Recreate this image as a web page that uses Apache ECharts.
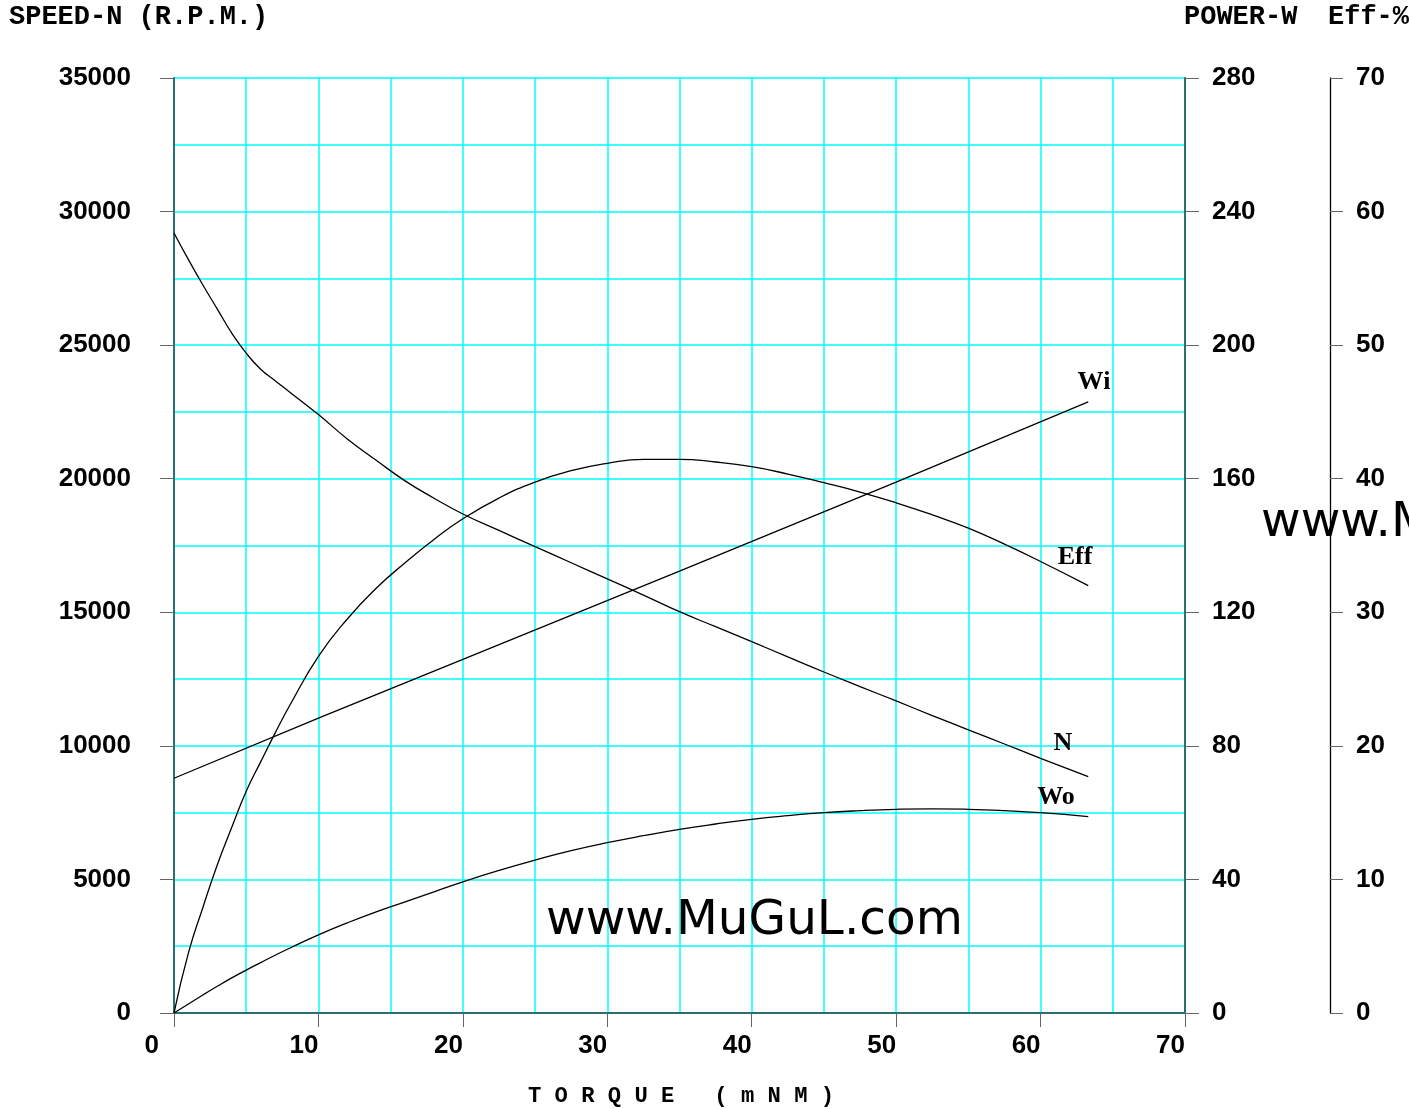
<!DOCTYPE html>
<html>
<head>
<meta charset="utf-8">
<script src="https://cdn.jsdelivr.net/npm/echarts@6/dist/echarts.min.js"></script>
<style>
html,body{margin:0;padding:0;background:#fff;}
#c{width:1409px;height:1109px;}
</style>
</head>
<body>
<div id="c"></div>
<script>
// ---- data ----
const torque   = [0, 1, 2, 3, 4, 5, 6, 7, 8, 10, 12, 14, 16, 18, 20, 22.5, 25, 27.5, 30, 32.5, 35, 37.5, 40, 42.5, 45, 47.5, 50, 52.5, 55, 57.5, 60, 63.3];
const speedN   = [29200, 28200, 27250, 26350, 25450, 24700, 24100, 23670, 23250, 22400, 21490, 20690, 19920, 19270, 18680, 18063, 17456, 16855, 16250, 15645, 15022, 14460, 13900, 13330, 12765, 12220, 11680, 11135, 10600, 10070, 9534, 8846];
const effPct   = [0, 4.5, 7.9, 11.1, 13.9, 16.6, 18.8, 20.95, 23.0, 26.7, 29.5, 31.8, 33.7, 35.45, 37.0, 38.55, 39.75, 40.6, 41.15, 41.45, 41.45, 41.25, 40.9, 40.35, 39.7, 39.0, 38.2, 37.3, 36.3, 35.1, 33.8, 32.0];
const powerOut = [0, 2.7, 5.4, 8.0, 10.5, 12.85, 15.1, 17.3, 19.4, 23.4, 27.0, 30.3, 33.3, 36.3, 39.3, 42.7, 45.8, 48.6, 51.0, 53.1, 55.0, 56.6, 58.0, 59.1, 60.0, 60.6, 61.0, 61.15, 61.0, 60.6, 60.0, 58.8];
const wiTorque = [0, 10, 20, 35, 50, 63.3];
const powerIn  = [70.3, 88.3, 105.9, 132.3, 159.0, 183.0];

const xRange     = [0, 70, 10];
const speedRange = [0, 35000, 5000];
const powerRange = [0, 280, 40];
const effRange   = [0, 70, 10];

const curveNames = ['N', 'Wi', 'Wo', 'Eff'];
const titles = ['SPEED-N (R.P.M.)', 'POWER-W', 'Eff-%', 'T O R Q U E   ( m N M )'];
const watermark = 'www.MuGuL.com';

// ---- chart ----
const zip = (xs, ys) => xs.map((x, i) => [x, ys[i]]);
const chart = echarts.init(document.getElementById('c'), null, {renderer: 'canvas'});

const CYAN = '#00ffff';
const TEAL = '#2c6f6f';
const labelFont = {fontFamily: '"Liberation Sans", Arial, sans-serif', fontWeight: 'bold', fontSize: 26, color: '#000'};

function lineSeries(name, data, yIdx, smooth) {
  return {
    name, type: 'line', data, yAxisIndex: yIdx,
    showSymbol: false, symbol: 'none', smooth: smooth,
    lineStyle: {color: '#000', width: 1.3}, z: 5, silent: true, animation: false
  };
}

const titleFont = 'bold 27px "Liberation Mono", "Courier New", monospace';
const curveFont = 'bold 26px "Liberation Serif", "Times New Roman", serif';
const wmFont = '48.5px "DejaVu Sans", Verdana, sans-serif';
function txt(x, y, text, font, align) {
  return {type: 'text', x, y, z: 10, silent: true,
    style: {text, font, fill: '#000', align, verticalAlign: 'middle', textAlign: align, textVerticalAlign: 'middle'}};
}

const option = {
  animation: false,
  backgroundColor: '#fff',
  grid: {left: 174, right: 224, top: 78, bottom: 96, containLabel: false},
  xAxis: {
    type: 'value', min: xRange[0], max: xRange[1], interval: xRange[2],
    axisLine: {show: true, onZero: false, lineStyle: {color: TEAL, width: 2}},
    axisTick: {show: true, length: 14, lineStyle: {color: '#666', width: 1}},
    minorTick: {show: false, splitNumber: 2},
    splitLine: {show: true, lineStyle: {color: CYAN, width: 1.5}},
    minorSplitLine: {show: true, lineStyle: {color: CYAN, width: 1.5}},
    axisLabel: Object.assign({}, labelFont, {
      align: 'right', verticalAlign: 'top', margin: 20,
      formatter: v => v === 0 ? '{z|0}' : String(v),
      rich: {z: Object.assign({}, labelFont, {padding: [0, 15, 0, 0]})}
    })
  },
  yAxis: [
    {
      type: 'value', position: 'left', min: speedRange[0], max: speedRange[1], interval: speedRange[2],
      axisLine: {show: true, onZero: false, lineStyle: {color: TEAL, width: 2}},
      axisTick: {show: true, length: 14, lineStyle: {color: '#666', width: 1}},
      minorTick: {show: false, splitNumber: 2},
      splitLine: {show: true, lineStyle: {color: CYAN, width: 1.5}},
      minorSplitLine: {show: true, lineStyle: {color: CYAN, width: 1.5}},
      axisLabel: Object.assign({}, labelFont, {margin: 43, formatter: v => String(v)})
    },
    {
      type: 'value', position: 'right', offset: 0, min: powerRange[0], max: powerRange[1], interval: powerRange[2],
      axisLine: {show: true, onZero: false, lineStyle: {color: TEAL, width: 2}},
      axisTick: {show: true, length: 14, lineStyle: {color: '#666', width: 1}},
      splitLine: {show: false},
      axisLabel: Object.assign({}, labelFont, {margin: 27, formatter: v => String(v)})
    },
    {
      type: 'value', position: 'right', offset: 145, min: effRange[0], max: effRange[1], interval: effRange[2],
      axisLine: {show: true, onZero: false, lineStyle: {color: '#000', width: 1.3}},
      axisTick: {show: true, length: 13, lineStyle: {color: '#666', width: 1}},
      splitLine: {show: false},
      axisLabel: Object.assign({}, labelFont, {margin: 26, formatter: v => String(v)})
    }
  ],
  series: [
    lineSeries(curveNames[0], zip(torque, speedN), 0, 0.5),
    lineSeries(curveNames[1], zip(wiTorque, powerIn), 1, false),
    lineSeries(curveNames[2], zip(torque, powerOut), 1, 0.5),
    lineSeries(curveNames[3], zip(torque, effPct), 2, 0.5)
  ],
  graphic: [
    txt(9, 17, titles[0], titleFont, 'left'),
    txt(1184, 17, titles[1], titleFont, 'left'),
    txt(1328, 17, titles[2], titleFont, 'left'),
    txt(681, 1096, titles[3], 'bold 22.2px "Liberation Mono", "Courier New", monospace', 'center'),
    txt(1094, 382, curveNames[1], curveFont, 'center'),
    txt(1075, 557, curveNames[3], curveFont, 'center'),
    txt(1063, 743, curveNames[0], curveFont, 'center'),
    txt(1056, 797, curveNames[2], curveFont, 'center'),
    txt(546, 921, watermark, wmFont, 'left'),
    txt(1261, 523, watermark, wmFont, 'left')
  ]
};
chart.setOption(option);
</script>
</body>
</html>
